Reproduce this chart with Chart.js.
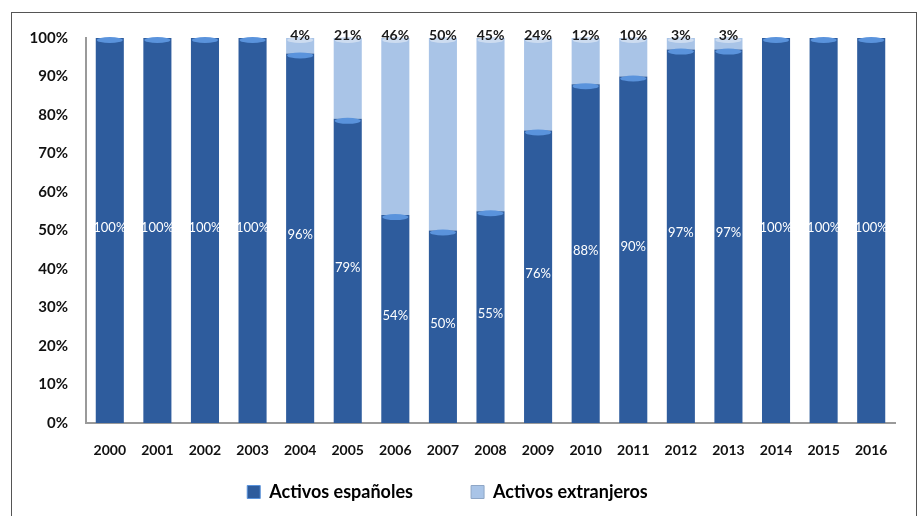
<!DOCTYPE html>
<html lang="es">
<head>
<meta charset="utf-8">
<title>Activos españoles y extranjeros</title>
<script src="https://cdn.jsdelivr.net/npm/chart.js@4.4.1/dist/chart.umd.min.js"></script>
<style>
    html, body { margin: 0; padding: 0; background: #fff; }
    #wrap { position: relative; width: 924px; height: 516px; overflow: hidden; }
    #frame {
        position: absolute; left: 11px; top: 12px; width: 906px; height: 520px;
        border: 1.5px solid #555; border-bottom: none; box-sizing: border-box;
    }
    canvas { position: absolute; left: 0; top: 0; }
</style>
</head>
<body>
<div id="wrap">
    <div id="frame"></div>
    <canvas id="chart" width="924" height="516"></canvas>
</div>
<script>
// ─── DATA ─────────────────────────────────────────────────
const years       = ['2000', '2001', '2002', '2003', '2004', '2005', '2006', '2007', '2008',
                     '2009', '2010', '2011', '2012', '2013', '2014', '2015', '2016'];
const espanoles   = [100, 100, 100, 100, 96, 79, 54, 50, 55, 76, 88, 90, 97, 97, 100, 100, 100];
const extranjeros = [0, 0, 0, 0, 4, 21, 46, 50, 45, 24, 12, 10, 3, 3, 0, 0, 0];
const yTicks      = [0, 10, 20, 30, 40, 50, 60, 70, 80, 90, 100];
const seriesNames = ['Activos españoles', 'Activos extranjeros'];

const FONT = "Lato, 'Open Sans', sans-serif";
const DARK  = { fill: '#2e5c9d', edge: '#244a82', cap: '#5a93dc' };
const LIGHT = { fill: '#a9c4e7', edge: '#8ea6c6', cap: '#cddcf0' };
const GAP = '\u00a0'.repeat(11);   // extra room between the two legend entries

// horizontal shading across each bar
function barFill(c, col) {
    const el = c.element;
    if (!el || !el.width) return col.fill;
    const g = c.chart.ctx.createLinearGradient(el.x - el.width / 2, 0, el.x + el.width / 2, 0);
    g.addColorStop(0, col.edge);
    g.addColorStop(0.2, col.fill);
    g.addColorStop(0.8, col.fill);
    g.addColorStop(1, col.edge);
    return g;
}

// ─── PLUGINS ──────────────────────────────────────────────
const capsAndLabels = {
    id: 'capsAndLabels',
    afterDatasetsDraw(chart) {
        const ctx = chart.ctx;
        chart.data.datasets.forEach((ds, di) => {
            const col = di === 0 ? DARK : LIGHT;
            chart.getDatasetMeta(di).data.forEach((bar, i) => {
                const v = ds.data[i];
                if (!v) return;
                const w = bar.width;
                // lighter rounded cap at the top of each segment
                ctx.save();
                ctx.fillStyle = col.cap;
                ctx.beginPath();
                ctx.ellipse(bar.x, bar.y + 2, w / 2 - 1, 3, 0, 0, Math.PI * 2);
                ctx.fill();
                ctx.restore();

                ctx.save();
                ctx.textAlign = 'center';
                ctx.textBaseline = 'middle';
                if (di === 0) {
                    ctx.fillStyle = '#ffffff';
                    ctx.font = `13px ${FONT}`;
                    ctx.fillText(v + '%', bar.x, (bar.y + bar.base) / 2 - 3);
                } else {
                    ctx.fillStyle = '#1a1a1a';
                    ctx.font = `bold 14px ${FONT}`;
                    ctx.fillText(v + '%', bar.x, bar.y - 3);
                }
                ctx.restore();
            });
        });
    },
};

// ─── CHART ────────────────────────────────────────────────
new Chart(document.getElementById('chart'), {
    type: 'bar',
    data: {
        labels: years,
        datasets: [
            {
                label: seriesNames[0],
                data: espanoles,
                backgroundColor: (c) => barFill(c, DARK),
                borderWidth: 0,
                barPercentage: 0.59,
                categoryPercentage: 1,
            },
            {
                label: seriesNames[1],
                data: extranjeros,
                backgroundColor: (c) => barFill(c, LIGHT),
                borderWidth: 0,
                barPercentage: 0.59,
                categoryPercentage: 1,
            },
        ],
    },
    options: {
        responsive: false,
        animation: false,
        layout: { padding: { top: 38, right: 29, left: 0, bottom: 5 } },
        plugins: {
            tooltip: { enabled: false },
            legend: {
                position: 'bottom',
                labels: {
                    color: '#111',
                    font: { family: FONT, size: 18, weight: 'bold' },
                    boxWidth: 13,
                    boxHeight: 13,
                    padding: 10,
                    generateLabels: (chart) => chart.data.datasets.map((ds, i) => ({
                        text: i === 0 ? ds.label + GAP : ds.label,
                        fillStyle: i === 0 ? DARK.fill : LIGHT.fill,
                        strokeStyle: i === 0 ? DARK.cap : LIGHT.edge,
                        lineWidth: 1,
                        datasetIndex: i,
                    })),
                },
            },
        },
        scales: {
            x: {
                stacked: true,
                grid: { display: false, drawTicks: false },
                border: { display: true, color: '#9a9a9a', width: 2 },
                ticks: { color: '#111', padding: 19, font: { family: FONT, size: 14, weight: 'bold' } },
                afterFit: (s) => { s.height = 50; },
            },
            y: {
                stacked: true,
                min: 0,
                max: 100,
                afterBuildTicks: (s) => { s.ticks = yTicks.map(v => ({ value: v })); },
                grid: { display: false, drawTicks: false },
                border: { display: true, color: '#9a9a9a', width: 2 },
                ticks: {
                    color: '#111',
                    padding: 18,
                    font: { family: FONT, size: 15, weight: 'bold' },
                    callback: (v) => v + '%',
                },
                afterFit: (s) => { s.width = 86; },
            },
        },
    },
    plugins: [capsAndLabels],
});
</script>
</body>
</html>
